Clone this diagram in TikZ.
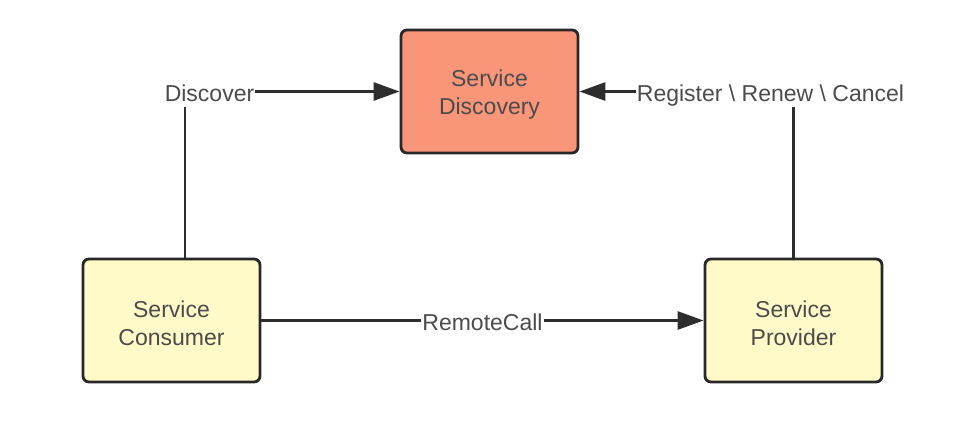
\documentclass[tikz,border=0pt]{standalone}
\usepackage{fontspec}
\setmainfont{Liberation Sans}
\usepackage{tikz}
\usetikzlibrary{positioning,arrows.meta,calc}

\begin{document}
\begin{tikzpicture}
	[x=1pt,y=-1pt,
	box/.style={draw={rgb,255:red,40;green,40;blue,40},line width=2.8pt,rounded corners=6pt,minimum width=177pt,minimum height=123pt,align=center,text={rgb,255:red,75;green,75;blue,75},font=\fontsize{23}{28}\selectfont},
	lbl/.style={fill=white,inner sep=1pt,text height=16.5pt,text depth=5pt,text={rgb,255:red,75;green,75;blue,75},font=\fontsize{23}{27}\selectfont},
	conn/.style={line width=2.8pt,draw={rgb,255:red,45;green,45;blue,45},-{Triangle[length=26pt,width=18pt]}}]
	\useasboundingbox (0,0) rectangle (954,437);
	%BOXES
	\node[box,fill={rgb,255:red,249;green,150;blue,121}] (disc) at (489.5,91.5) {};
	\node[box,fill={rgb,255:red,255;green,250;blue,200}] (cons) at (171.5,320.5) {};
	\node[box,fill={rgb,255:red,255;green,250;blue,200}] (prov) at (793.5,320.5) {};
	\node[box,draw=none,fill=none] (tdisc) at ($(disc)+(0,3)$) {Service\\Discovery};
	\node[box,draw=none,fill=none] (tcons) at ($(cons)+(0,3)$) {Service\\Consumer};
	\node[box,draw=none,fill=none] (tprov) at ($(prov)+(0,3)$) {Service\\Provider};
	%CONNECTORS
	\coordinate (c0) at ($(cons.north)+(13.5,0)$);
	\draw[conn] (c0) |- (disc.west);
	\draw[conn] (prov.north) |- (disc.east);
	\draw[conn] (cons.east) -- (prov.west);
	%LABELS
	\node[lbl] (ldisc) at (209.5,95.5) {Discover};
	\node[lbl] (lreg) at (770.5,95.5) {Register \textbackslash{} Renew \textbackslash{} Cancel};
	\node[lbl] (lcall) at ($(cons.east)!0.5!(prov.west)+(0,4)$) {RemoteCall};
\end{tikzpicture}
\end{document}
